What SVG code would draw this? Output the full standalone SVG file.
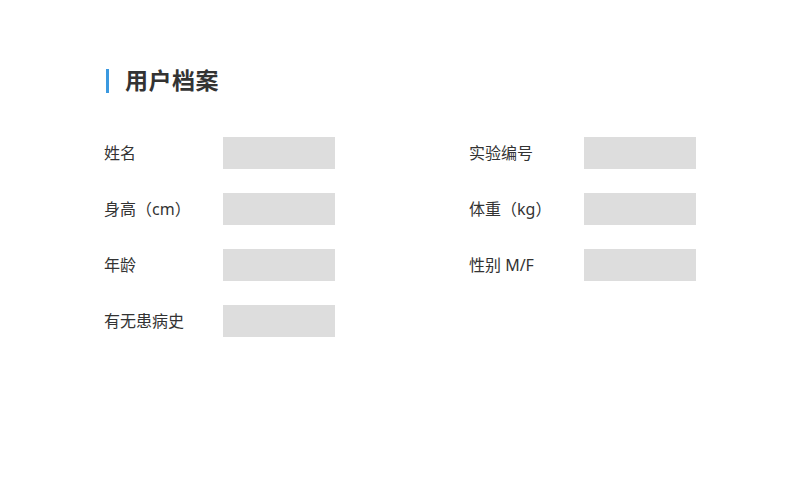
<svg xmlns="http://www.w3.org/2000/svg" width="800" height="480" viewBox="0 0 800 480">
<style>
.lbl{font-family:"Noto Sans","Noto Sans CJK SC",sans-serif;font-size:16px;fill:#333333}
.box{fill:#dddddd}
.title{font-family:"Noto Sans","Noto Sans CJK SC",sans-serif;font-size:23px;font-weight:bold;fill:#333333;letter-spacing:0.5px}
</style>
<rect width="800" height="480" fill="#ffffff"/>
<g id="header">
<rect x="106" y="69" width="3" height="24" fill="#3b99e0"/>
<text class="title" x="125" y="89">用户档案</text>
</g>
<g id="name"><text class="lbl" x="104" y="159">姓名</text><rect class="box" x="223" y="137" width="112" height="32"/></g>
<g id="height"><text class="lbl" x="104" y="215">身高（cm）</text><rect class="box" x="223" y="193" width="112" height="32"/></g>
<g id="age"><text class="lbl" x="104" y="271">年龄</text><rect class="box" x="223" y="249" width="112" height="32"/></g>
<g id="history"><text class="lbl" x="104" y="327">有无患病史</text><rect class="box" x="223" y="305" width="112" height="32"/></g>
<g id="expno"><text class="lbl" x="469" y="159">实验编号</text><rect class="box" x="584" y="137" width="112" height="32"/></g>
<g id="weight"><text class="lbl" x="469" y="215">体重（kg）</text><rect class="box" x="584" y="193" width="112" height="32"/></g>
<g id="sex"><text class="lbl" x="469" y="271">性别 M/F</text><rect class="box" x="584" y="249" width="112" height="32"/></g>
<g id="connectors"></g>
</svg>
